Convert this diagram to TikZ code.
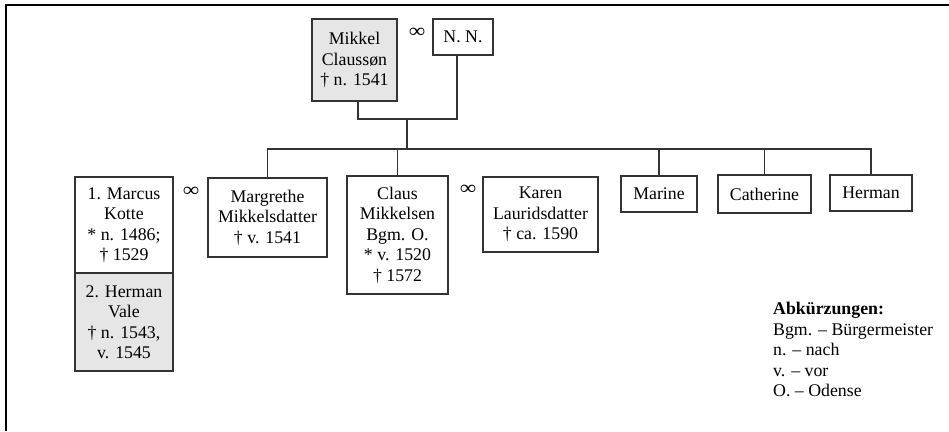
\documentclass[tikz,border=0pt]{standalone}
\usepackage{fontspec}
\setmainfont{Liberation Serif}
\usetikzlibrary{calc}
\definecolor{boxgray}{HTML}{E6E6E6}
\definecolor{edgegray}{HTML}{333333}
\tikzset{
  person/.style={draw=edgegray, line width=1.3pt, fill=white, align=center,
    inner sep=0pt, font=\fontsize{17.8}{20.5}\selectfont},
  shaded/.style={person, fill=boxgray},
  marriage/.style={inner sep=0pt, font=\fontsize{17.8}{20.5}\selectfont},
  link/.style={draw=edgegray, line width=1.3pt},
}
% wide marriage sign
\newcommand{\wedsign}{\scalebox{1.3}[1.1]{∞}}
\begin{document}
\begin{tikzpicture}[x=1pt, y=-1pt]
\useasboundingbox (0,0) rectangle (949,431);
% frame
\draw[line width=2pt, black] (5.5,431) -- (5.5,4.5) -- (949,4.5);

% parents
\node[shaded, minimum width=85pt, minimum height=82pt] (mikkel) at (354.5,60) {Mikkel\\Claussøn\\† n. 1541};
\node[person, minimum width=60pt, minimum height=36pt] (nn) at (463,37) {N. N.};
\node[marriage] (m0) at (417,33) {\wedsign};

% children and spouses
\node[person, minimum width=98pt, minimum height=96pt] (marcus) at (124,225) {1. Marcus\\Kotte\\* n. 1486;\\† 1529};
\node[shaded, minimum width=98pt, minimum height=98pt] (vale) at (124,322) {2. Herman\\Vale\\† n. 1543,\\v. 1545};
\node[marriage] (m1) at (191,192) {\wedsign};
\node[person, minimum width=119pt, minimum height=79pt] (margrethe) at (267.5,217.5) {Margrethe\\Mikkelsdatter\\† v. 1541};
\node[person, minimum width=101pt, minimum height=118pt] (claus) at (397.5,235) {Claus\\Mikkelsen\\Bgm. O.\\* v. 1520\\† 1572};
\node[marriage] (m2) at (468,190) {\wedsign};
\node[person, minimum width=115pt, minimum height=75pt] (karen) at (540.5,214.5) {Karen\\Lauridsdatter\\† ca. 1590};
\node[person, minimum width=76pt, minimum height=36pt] (marine) at (659,194) {Marine};
\node[person, minimum width=93pt, minimum height=38pt] (catherine) at (764.5,194) {Catherine};
\node[person, minimum width=82pt, minimum height=36pt] (herman) at (871,193) {Herman};

% connectors
\coordinate (couple) at (407,119);
\coordinate (sib) at (407,149);
\draw[link] ($(mikkel.south)+(3.5,0)$) |- (couple) -| ($(nn.south)+(-6,0)$);
\draw[link] (couple) -- (sib);
\draw[link] (margrethe.north) -- (margrethe.north |- sib) -- (herman.north |- sib) -- (herman.north);
\foreach \c in {claus, marine, catherine}
  \draw[link] (\c.north) -- (\c.north |- sib);

% legend
\node[anchor=north west, inner sep=0pt, align=left, font=\fontsize{17.8}{20.5}\selectfont] (legend) at (773,302)
  {\textbf{Abkürzungen:}\\Bgm. – Bürgermeister\\n. – nach\\v. – vor\\O. – Odense};
\end{tikzpicture}
\end{document}
